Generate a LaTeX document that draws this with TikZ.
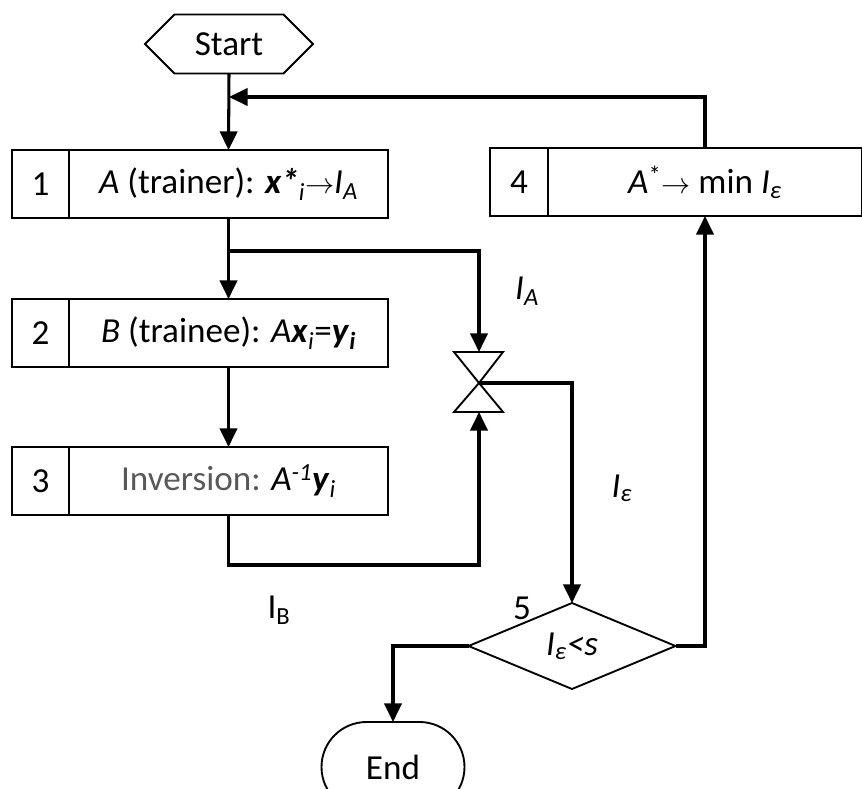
\documentclass[tikz,border=0pt]{standalone}
\usepackage{fontspec}
\setmainfont{Carlito}
\usetikzlibrary{arrows.meta,shapes.geometric,shapes.misc,shapes.symbols}

\begin{document}
\begin{tikzpicture}[x=0.03cm,y=-0.03cm,>={Triangle[length=0.56cm,width=0.52cm]},
	font=\fontsize{30}{34}\selectfont,
	shp/.style={draw,line width=1.6pt,inner sep=0pt,outer sep=0pt},
	box/.style={shp,minimum height=2.04cm},
	numbox/.style={box,minimum width=1.71cm},
	conn/.style={line width=2.6pt}]
		\useasboundingbox (0,0) rectangle (862,789);
		\clip (0,0) rectangle (862,789);
		\node[shp,signal,signal to=west and east,minimum width=5.04cm,minimum height=1.77cm] (start) at (229,44) {Start};
		\node[numbox] (n1) at (40.5,184) {1};
		\node[box,minimum width=9.57cm,anchor=west] (b1) at (n1.east) {\textit{A} (trainer): \textbf{\textit{x*}}\textsubscript{\textit{i}}$\rightarrow$\textit{I}\textsubscript{\textit{A}}};
		\node[numbox] (n2) at (40.5,333) {2};
		\node[box,minimum width=9.57cm,anchor=west] (b2) at (n2.east) {\textit{B} (trainee): \textit{A}\textbf{\textit{x}}\textsubscript{\textit{i}}=\textbf{\textit{y}}\textsubscript{\textbf{\textit{i}}}};
		\node[numbox] (n3) at (40.5,481) {3};
		\node[box,minimum width=9.57cm,anchor=west] (b3) at (n3.east) {{\color{black!65}Inversion:} \textit{A}\textsuperscript{\textit{-1}}\textbf{\textit{y}}\textsubscript{\textit{i}}};
		\node[numbox,minimum width=1.74cm] (n4) at (519,182) {4};
		\node[box,minimum width=9.42cm,anchor=west] (b4) at (n4.east) {\textit{A}\textsuperscript{*}$\rightarrow$ min \textit{I}\textsubscript{\textit{ε}}};
		\node[shp,diamond,minimum width=6.21cm,minimum height=2.58cm] (check) at (572,646) {\textit{I}\textsubscript{\textit{ε}}\textit{<s}};
		\node (num5) at (522,608) {5};
		\node[shp,rounded rectangle,minimum width=4.29cm,minimum height=2.7cm] (end) at (393,767) {End};
		% hourglass
		\coordinate (mix) at (479,383);
		\coordinate (mixtop) at (479,352);
		\coordinate (mixbot) at (479,412);
		\draw[line width=1.6pt] (mix) -- ++(-25,-31) -- ++(49,0) -- cycle;
		\draw[line width=1.6pt] (mix) -- ++(-25,29) -- ++(49,0) -- cycle;
		\node (lA) at (527,291) {\textit{I}\textsubscript{\textit{A}}};
		\node (leps) at (622,488) {\textit{I}\textsubscript{\textit{ε}}};
		\node (lB) at (279,610) {I\textsubscript{B}};
		\coordinate (loop) at (start.south |- 0,97);
		\coordinate (fork) at (b1.south |- 0,251);
		\draw[conn,->] (start.south) -- (b1.north);
		\draw[conn,->] (b4.north) |- (loop);
		\draw[conn,->] (b1.south) -- (b2.north);
		\draw[conn,->] (fork) -| (mixtop);
		\draw[conn,->] (b2.south) -- (b3.north);
		\draw[conn,->] (b3.south) -- ++(0,50) -| (mixbot);
		\draw[conn,->] (mix) -| (check.north);
		\draw[conn,->] (check.east) -| (b4.south);
		\draw[conn,->] (check.west) -| (end.north);
	\end{tikzpicture}
\end{document}
